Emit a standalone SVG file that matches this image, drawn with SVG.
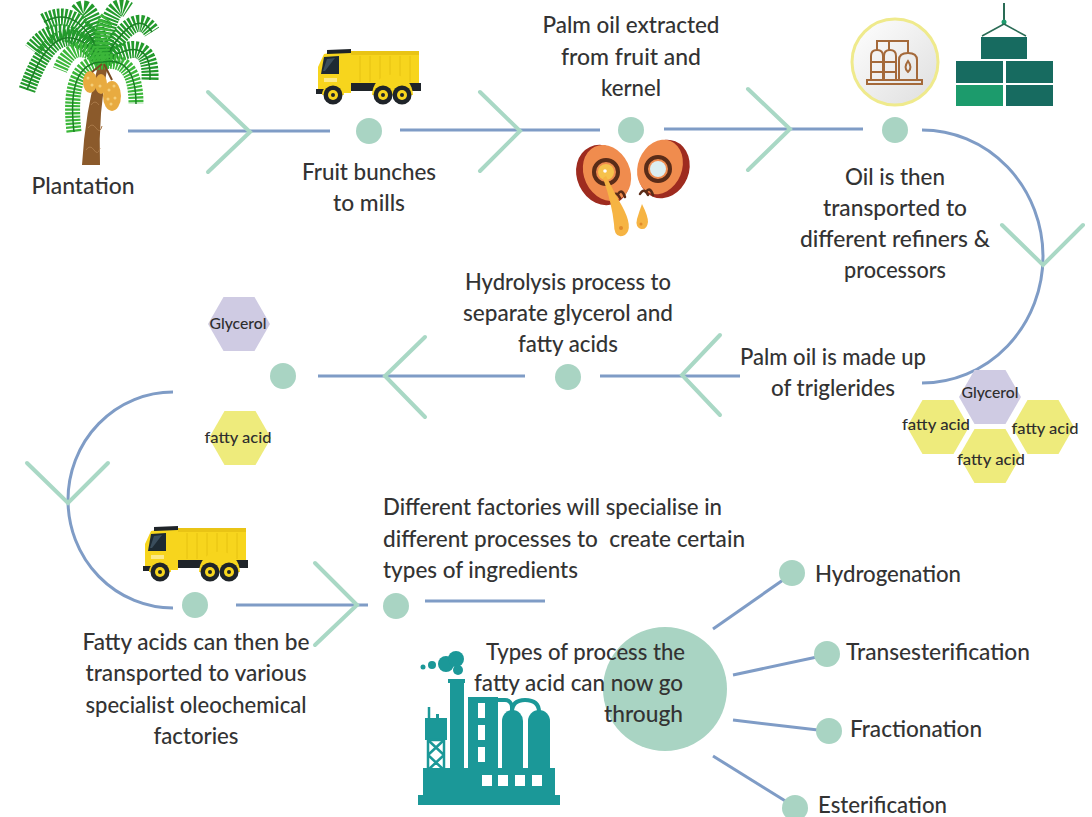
<svg xmlns="http://www.w3.org/2000/svg" width="1092" height="817" viewBox="0 0 1092 817">
  <defs>
    <style>
      .t { font-family: "Lato", "Open Sans", "DejaVu Sans", sans-serif; font-size: 23px; font-weight: 500; fill: #333333; }
      .tc { text-anchor: middle; }
      .tr { text-anchor: end; }
      .hx { font-family: "Lato", "DejaVu Sans", sans-serif; font-size: 15px; font-weight: 500; fill: #2e2e2e; text-anchor: middle; }
      .line { stroke: #7f9cc6; stroke-width: 3; fill: none; }
      .chev { stroke: #a9d8c5; stroke-width: 4; fill: none; stroke-linecap: round; stroke-linejoin: miter; }
      .dot { fill: #a9d4c3; }
      .gly { fill: #cfcbe3; }
      .fa { fill: #eeeb7c; }
      .frond { fill: none; stroke: #239a2c; stroke-width: 17; stroke-dasharray: 2.2 1.3; }
      .frond2 { fill: none; stroke: #3cb73a; stroke-width: 15; stroke-dasharray: 2.2 1.3; }
      .rachis { fill: none; stroke: #1b7f25; stroke-width: 1.5; }
      .teal { fill: #1b9898; }
    </style>
    <linearGradient id="iconBg" x1="0" y1="0" x2="1" y2="1">
      <stop offset="0" stop-color="#ffffff"/>
      <stop offset="1" stop-color="#dedede"/>
    </linearGradient>
    <symbol id="truck" viewBox="0 0 106 60" overflow="visible">
      <!-- dump bed -->
      <rect x="35" y="8" width="69" height="31" fill="#f7d51d"/>
      <rect x="35" y="6" width="69" height="4" fill="#e9c415"/>
      <g stroke="#e6c213" stroke-width="1">
        <line x1="45" y1="11" x2="45" y2="37"/><line x1="55" y1="11" x2="55" y2="37"/>
        <line x1="65" y1="11" x2="65" y2="37"/><line x1="75" y1="11" x2="75" y2="37"/>
        <line x1="85" y1="11" x2="85" y2="37"/><line x1="95" y1="11" x2="95" y2="37"/>
      </g>
      <!-- chassis -->
      <rect x="18" y="38" width="88" height="8" fill="#1f2429"/>
      <!-- cab -->
      <path d="M3,48 L3,22 L9,9 L20,7 L36,7 L36,48 Z" fill="#f7d51d"/>
      <path d="M12,5 L36,4 L36,8 L12,9 Z" fill="#1f2429"/>
      <path d="M9,12 L24,11 L24,29 L6,29 Z" fill="#1e2a33"/>
      <path d="M12,14 L20,13 L10,26 L8,26 Z" fill="#3a4d5c"/>
      <rect x="9" y="33" width="13" height="4" fill="#fbe98a"/>
      <rect x="1" y="44" width="22" height="5" fill="#1f2429"/>
      <!-- fenders -->
      <path d="M7,50 A11,11 0 0 1 29,50" fill="#f7d51d"/>
      <path d="M57,50 A11,11 0 0 1 98,50" fill="#f7d51d"/>
      <!-- wheels -->
      <g>
        <circle cx="18" cy="50" r="9.5" fill="#1f2429"/><circle cx="18" cy="50" r="5" fill="#f7d51d"/><circle cx="18" cy="50" r="2" fill="#1f2429"/>
        <circle cx="68" cy="50" r="9.5" fill="#1f2429"/><circle cx="68" cy="50" r="5" fill="#f7d51d"/><circle cx="68" cy="50" r="2" fill="#1f2429"/>
        <circle cx="87" cy="50" r="9.5" fill="#1f2429"/><circle cx="87" cy="50" r="5" fill="#f7d51d"/><circle cx="87" cy="50" r="2" fill="#1f2429"/>
      </g>
    </symbol>
    <polygon id="hex" points="-31,0 -15.5,-27 15.5,-27 31,0 15.5,27 -15.5,27"/>
  </defs>

  <rect width="1092" height="817" fill="#ffffff"/>

  <!-- connectors -->
  <g id="connectors">
    <line class="line" x1="128" y1="131" x2="330" y2="131"/>
    <line class="line" x1="400" y1="130" x2="600" y2="130"/>
    <line class="line" x1="664" y1="129" x2="863" y2="129"/>
    <path class="line" d="M922,130 A121,126.5 0 0 1 922,383"/>
    <line class="line" x1="600" y1="376" x2="740" y2="376"/>
    <line class="line" x1="318" y1="376" x2="525" y2="376"/>
    <path class="line" d="M173,392 A105,108 0 0 0 173,608"/>
    <line class="line" x1="236" y1="605" x2="368" y2="605"/>
    <line class="line" x1="425" y1="601" x2="545" y2="601"/>
    <line class="line" x1="713" y1="629" x2="783" y2="580"/>
    <line class="line" x1="733" y1="675" x2="817" y2="657"/>
    <line class="line" x1="733" y1="720" x2="818" y2="730"/>
    <line class="line" x1="713" y1="756" x2="787" y2="802"/>

    <polyline class="chev" points="208,92 250,132 208,172"/>
    <polyline class="chev" points="480,92 520,131 480,171"/>
    <polyline class="chev" points="748,89 790,129 748,170"/>
    <polyline class="chev" points="1002,225 1043,265 1083,225"/>
    <polyline class="chev" points="720,335 682,375 720,415"/>
    <polyline class="chev" points="425,337 385,376 425,417"/>
    <polyline class="chev" points="27,463 68,503 108,463"/>
    <polyline class="chev" points="315,563 357,605 315,645"/>
  </g>

  <!-- plantation -->
  <g id="plantation">
    <path d="M82,165 L100,165 Q98,112 108,64 L99,62 Q85,112 82,165 Z" fill="#8b5a2b"/>
    <path d="M86,150 q4,-6 8,0 q4,6 6,-2 M88,128 q4,-6 8,0 q4,6 6,-2 M91,105 q4,-6 8,0" stroke="#a87848" stroke-width="1" fill="none"/>
    <!-- outer fronds -->
    <path class="frond" d="M103,62 Q58,2 27,90"/>
    <path class="frond" d="M103,62 Q62,10 32,50"/>
    <path class="frond" d="M103,62 Q80,2 44,22"/>
    <path class="frond" d="M103,62 Q92,-4 78,12"/>
    <path class="frond" d="M103,62 Q108,-4 128,10"/>
    <path class="frond" d="M103,62 Q135,5 152,32"/>
    <path class="frond" d="M103,62 Q152,30 150,80"/>
    <path class="rachis" d="M103,62 Q58,2 27,90 M103,62 Q80,2 44,22 M103,62 Q135,5 152,32 M103,62 Q152,30 150,80"/>
    <!-- inner fronds -->
    <path class="frond2" d="M103,62 Q66,62 74,132"/>
    <path class="frond2" d="M103,62 Q74,34 60,70"/>
    <path class="frond2" d="M103,62 Q136,56 136,104"/>
    <path class="frond2" d="M103,62 Q100,25 108,18"/>
    <path class="rachis" d="M103,62 Q66,62 74,132 M103,62 Q136,56 136,104"/>
    <!-- fruit bunches -->
    <g fill="#e8ab40">
      <ellipse cx="90" cy="82" rx="7" ry="11"/>
      <ellipse cx="112" cy="96" rx="9" ry="15"/>
      <ellipse cx="101" cy="84" rx="6" ry="10"/>
    </g>
    <g fill="#f5cf7a">
      <circle cx="88" cy="78" r="1.5"/><circle cx="92" cy="85" r="1.5"/><circle cx="109" cy="90" r="1.5"/>
      <circle cx="115" cy="98" r="1.5"/><circle cx="111" cy="104" r="1.5"/><circle cx="100" cy="86" r="1.5"/>
      <circle cx="114" cy="86" r="1.5"/><circle cx="108" cy="99" r="1.5"/>
    </g>
    <path d="M102,64 L92,72 M104,64 L112,80" stroke="#7a4a22" stroke-width="2"/>
    <text class="t tc" x="83" y="194" textLength="103" lengthAdjust="spacingAndGlyphs">Plantation</text>
  </g>

  <!-- fruit bunches to mills -->
  <g id="mills">
    <use href="#truck" x="315" y="45" width="106" height="60"/>
    <circle class="dot" cx="369" cy="131" r="13"/>
    <text class="t tc" x="369" y="180" textLength="134" lengthAdjust="spacingAndGlyphs">Fruit bunches</text>
    <text class="t tc" x="369" y="211" textLength="72" lengthAdjust="spacingAndGlyphs">to mills</text>
  </g>

  <!-- extraction -->
  <g id="extraction">
    <circle class="dot" cx="631" cy="130" r="13"/>
    <text class="t tc" x="631" y="33" textLength="177" lengthAdjust="spacingAndGlyphs">Palm oil extracted</text>
    <text class="t tc" x="631" y="65" textLength="140" lengthAdjust="spacingAndGlyphs">from fruit and</text>
    <text class="t tc" x="631" y="96" textLength="60" lengthAdjust="spacingAndGlyphs">kernel</text>
    <!-- fruit halves -->
    <ellipse cx="603" cy="175" rx="26" ry="31" transform="rotate(-25 603 175)" fill="#9e2b1f"/>
    <ellipse cx="607" cy="173" rx="23" ry="29" transform="rotate(-25 607 173)" fill="#f08c4e"/>
    <circle cx="606" cy="172" r="12" fill="none" stroke="#5a2c18" stroke-width="4"/>
    <circle cx="606" cy="172" r="8" fill="#f6c24c"/>
    <circle cx="605" cy="171" r="1.8" fill="#fff"/>
    <ellipse cx="664" cy="169" rx="25" ry="30" transform="rotate(22 664 169)" fill="#9e2b1f"/>
    <ellipse cx="660" cy="167" rx="22" ry="28" transform="rotate(22 660 167)" fill="#f08c4e"/>
    <circle cx="658" cy="169" r="12" fill="none" stroke="#5a2c18" stroke-width="4"/>
    <circle cx="658" cy="169" r="8" fill="#dceef0"/>
    <path d="M612,197 q4,-7 8,1 M618,194 q4,-6 7,3 M640,194 q4,-7 8,1 M646,192 q4,-6 7,3" stroke="#5a2c18" stroke-width="2.5" fill="none" stroke-linecap="round"/>
    <!-- oil drops -->
    <path d="M606,176 Q614,192 622,206 Q634,228 625,235 Q614,240 614,224 Q612,204 603,178 Z" fill="#f6b443"/>
    <path d="M642,204 Q648,216 648,222 Q647,230 641,229 Q635,227 637,219 Q639,212 642,204 Z" fill="#f6b443"/>
    <circle cx="621" cy="228" r="2" fill="#e08a2a"/>
    <circle cx="641" cy="224" r="1.5" fill="#e08a2a"/>
  </g>

  <!-- refiners -->
  <g id="refiners">
    <circle cx="895" cy="62" r="43" fill="url(#iconBg)" stroke="#efea8c" stroke-width="3"/>
    <g fill="none" stroke="#a4693a" stroke-width="2">
      <path d="M877,50 L877,41 L908,41 L908,53"/>
      <path d="M889,41 L889,50"/>
      <path d="M871,80 L871,56 Q871,50 877,50 Q883,50 883,56 L883,80"/>
      <path d="M884,80 L884,56 Q884,50 890,50 Q896,50 896,56 L896,80"/>
      <line x1="871" y1="62" x2="896" y2="62"/>
      <line x1="871" y1="72" x2="896" y2="72"/>
      <path d="M899,80 L899,60 Q899,53 908,53 Q917,53 917,60 L917,80"/>
      <path d="M908,61 q-5,7 0,11 q5,-4 0,-11 z"/>
      <rect x="867" y="80" width="55" height="4"/>
    </g>
    <g id="containers">
      <line x1="1004" y1="3" x2="1004" y2="22" stroke="#2a6b55" stroke-width="2"/>
      <circle cx="1004" cy="22" r="2.5" fill="#1e9d6e"/>
      <path d="M1004,24 L982,36 M1004,24 L1026,36" stroke="#2a6b55" stroke-width="1.5"/>
      <rect x="981" y="37" width="46" height="22" fill="#176b60"/>
      <rect x="956" y="61" width="47" height="22" fill="#176b60"/>
      <rect x="1006" y="61" width="47" height="22" fill="#176b60"/>
      <rect x="956" y="85" width="47" height="21" fill="#1c9b6c"/>
      <rect x="1006" y="85" width="47" height="21" fill="#176b60"/>
    </g>
    <circle class="dot" cx="895" cy="130" r="13"/>
    <text class="t tc" x="895" y="185" textLength="100" lengthAdjust="spacingAndGlyphs">Oil is then</text>
    <text class="t tc" x="895" y="216" textLength="144" lengthAdjust="spacingAndGlyphs">transported to</text>
    <text class="t tc" x="895" y="247" textLength="190" lengthAdjust="spacingAndGlyphs">different refiners &amp;</text>
    <text class="t tc" x="895" y="278" textLength="102" lengthAdjust="spacingAndGlyphs">processors</text>
  </g>

  <!-- triglerides -->
  <g id="triglerides">
    <text class="t tc" x="833" y="365" textLength="186" lengthAdjust="spacingAndGlyphs">Palm oil is made up</text>
    <text class="t tc" x="833" y="396" textLength="124" lengthAdjust="spacingAndGlyphs">of triglerides</text>
    <use href="#hex" class="gly" x="990" y="397"/>
    <use href="#hex" class="fa" x="938" y="427"/>
    <use href="#hex" class="fa" x="1043" y="427"/>
    <use href="#hex" class="fa" x="990" y="456"/>
    <text class="hx" x="990" y="398" textLength="57" lengthAdjust="spacingAndGlyphs">Glycerol</text>
    <text class="hx" x="936" y="430" textLength="68" lengthAdjust="spacingAndGlyphs">fatty acid</text>
    <text class="hx" x="1045" y="434" textLength="67" lengthAdjust="spacingAndGlyphs">fatty acid</text>
    <text class="hx" x="991" y="465" textLength="68" lengthAdjust="spacingAndGlyphs">fatty acid</text>
  </g>

  <!-- hydrolysis -->
  <g id="hydrolysis">
    <circle class="dot" cx="568" cy="377" r="13"/>
    <text class="t tc" x="568" y="290" textLength="206" lengthAdjust="spacingAndGlyphs">Hydrolysis process to</text>
    <text class="t tc" x="568" y="321" textLength="210" lengthAdjust="spacingAndGlyphs">separate glycerol and</text>
    <text class="t tc" x="568" y="352" textLength="100" lengthAdjust="spacingAndGlyphs">fatty acids</text>
  </g>

  <!-- separated -->
  <g id="separated">
    <circle class="dot" cx="283" cy="376" r="13"/>
    <use href="#hex" class="gly" x="239" y="324"/>
    <use href="#hex" class="fa" x="240" y="438"/>
    <text class="hx" x="238" y="329" textLength="57" lengthAdjust="spacingAndGlyphs">Glycerol</text>
    <text class="hx" x="238" y="443" textLength="67" lengthAdjust="spacingAndGlyphs">fatty acid</text>
  </g>

  <!-- transport to factories -->
  <g id="transport">
    <use href="#truck" x="142" y="522" width="106" height="60"/>
    <circle class="dot" cx="195" cy="605" r="13"/>
    <text class="t tc" x="196" y="650" textLength="227" lengthAdjust="spacingAndGlyphs">Fatty acids can then be</text>
    <text class="t tc" x="196" y="681" textLength="221" lengthAdjust="spacingAndGlyphs">transported to various</text>
    <text class="t tc" x="196" y="713" textLength="221" lengthAdjust="spacingAndGlyphs">specialist oleochemical</text>
    <text class="t tc" x="196" y="744" textLength="85" lengthAdjust="spacingAndGlyphs">factories</text>
  </g>

  <!-- specialise -->
  <g id="specialise">
    <circle class="dot" cx="396" cy="606" r="13"/>
    <text class="t" x="383" y="515" textLength="339" lengthAdjust="spacingAndGlyphs">Different factories will specialise in</text>
    <text class="t" x="383" y="547" textLength="362" lengthAdjust="spacingAndGlyphs" xml:space="preserve">different processes to  create certain</text>
    <text class="t" x="383" y="578" textLength="195" lengthAdjust="spacingAndGlyphs">types of ingredients</text>
  </g>

  <!-- factory -->
  <g id="factory">
    <circle class="teal" cx="423" cy="667" r="2.5"/>
    <circle class="teal" cx="432" cy="665" r="4"/>
    <circle class="teal" cx="446" cy="664" r="8"/>
    <circle class="teal" cx="456" cy="659" r="8"/>
    <circle class="teal" cx="458" cy="670" r="5"/>
    <rect class="teal" x="448" y="679" width="17" height="4"/>
    <rect class="teal" x="450" y="681" width="14" height="92"/>
    <line x1="429" y1="707" x2="429" y2="718" stroke="#1b9898" stroke-width="2.5"/>
    <rect class="teal" x="436" y="714" width="3" height="5"/>
    <rect class="teal" x="425" y="718" width="22" height="22"/>
    <g stroke="#1b9898" stroke-width="2.5" fill="none">
      <rect x="428" y="740" width="16" height="30"/>
      <path d="M428,740 L444,755 M444,740 L428,755 M428,755 L444,770 M444,755 L428,770"/>
    </g>
    <rect class="teal" x="468" y="697" width="30" height="76"/>
    <g fill="#ffffff">
      <rect x="478" y="703" width="7" height="15"/>
      <rect x="478" y="725" width="7" height="15"/>
      <rect x="478" y="747" width="7" height="15"/>
    </g>
    <path d="M498,700 L505,700 A7,7 0 0 1 512,707 L512,712" stroke="#1b9898" stroke-width="4" fill="none"/>
    <path d="M512,712 Q512,700 525,700 Q539,700 539,712" stroke="#1b9898" stroke-width="4" fill="none"/>
    <path class="teal" d="M502,773 L502,721 A10.5,11 0 0 1 523,721 L523,773 Z"/>
    <path class="teal" d="M528,773 L528,721 A11,11 0 0 1 550,721 L550,773 Z"/>
    <rect class="teal" x="423" y="768" width="132" height="29"/>
    <rect class="teal" x="418" y="795" width="142" height="10"/>
    <g fill="#ffffff">
      <rect x="482" y="775" width="10" height="11"/>
      <rect x="498" y="775" width="10" height="11"/>
      <rect x="515" y="775" width="10" height="11"/>
      <rect x="532" y="775" width="10" height="11"/>
    </g>
  </g>

  <!-- process hub -->
  <g id="processes">
    <circle class="dot" cx="665" cy="689" r="62"/>
    <text class="t tr" x="685" y="660" textLength="199" lengthAdjust="spacingAndGlyphs">Types of process the</text>
    <text class="t tr" x="683" y="691" textLength="209" lengthAdjust="spacingAndGlyphs">fatty acid can now go</text>
    <text class="t tr" x="683" y="722" textLength="79" lengthAdjust="spacingAndGlyphs">through</text>
  </g>
  <g id="hydrogenation">
    <circle class="dot" cx="792" cy="573" r="13"/>
    <text class="t" x="815" y="582" textLength="146" lengthAdjust="spacingAndGlyphs">Hydrogenation</text>
  </g>
  <g id="transesterification">
    <circle class="dot" cx="827" cy="654" r="13"/>
    <text class="t" x="846" y="660" textLength="184" lengthAdjust="spacingAndGlyphs">Transesterification</text>
  </g>
  <g id="fractionation">
    <circle class="dot" cx="829" cy="731" r="13"/>
    <text class="t" x="850" y="737" textLength="132" lengthAdjust="spacingAndGlyphs">Fractionation</text>
  </g>
  <g id="esterification">
    <circle class="dot" cx="795" cy="808" r="13"/>
    <text class="t" x="818" y="813" textLength="129" lengthAdjust="spacingAndGlyphs">Esterification</text>
  </g>
</svg>
